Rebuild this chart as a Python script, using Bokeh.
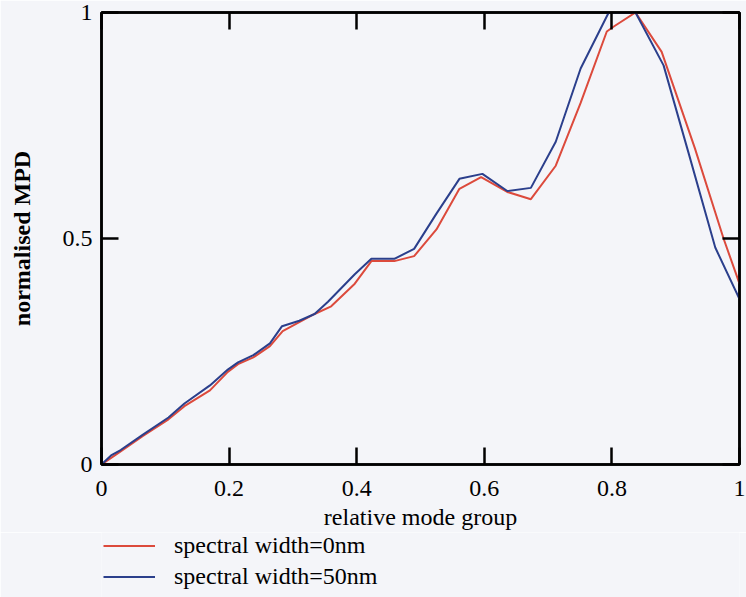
from bokeh.plotting import figure
from bokeh.layouts import column
from bokeh.models import Range1d, LinearAxis, Legend, LegendItem, FixedTicker
from bokeh.embed import file_html
from bokeh.resources import INLINE

# data
x_red = [0, 0.03, 0.065, 0.105, 0.13, 0.17, 0.198, 0.214, 0.238, 0.264, 0.284, 0.31, 0.334,
         0.36, 0.397, 0.423, 0.459, 0.49, 0.525, 0.561, 0.595, 0.636, 0.673, 0.712, 0.751,
         0.792, 0.803, 0.837, 0.878, 0.93, 0.975, 1.0]
y_red = [0, 0.029, 0.063, 0.1, 0.129, 0.164, 0.205, 0.222, 0.237, 0.262, 0.295, 0.315, 0.333,
         0.35, 0.40, 0.45, 0.45, 0.461, 0.52, 0.61, 0.636, 0.603, 0.587, 0.661, 0.80,
         0.958, 0.969, 1.0, 0.913, 0.70, 0.50, 0.40]
x_blue = [0, 0.015, 0.03, 0.065, 0.105, 0.13, 0.17, 0.198, 0.214, 0.238, 0.264, 0.283, 0.31,
          0.334, 0.355, 0.397, 0.423, 0.459, 0.49, 0.525, 0.561, 0.597, 0.636, 0.673, 0.712,
          0.751, 0.795, 0.837, 0.881, 0.92, 0.962, 1.0]
y_blue = [0, 0.02, 0.032, 0.066, 0.104, 0.135, 0.175, 0.21, 0.226, 0.242, 0.268, 0.306, 0.318,
          0.333, 0.36, 0.421, 0.455, 0.455, 0.477, 0.555, 0.632, 0.643, 0.605, 0.612, 0.714,
          0.876, 1.0, 1.0, 0.883, 0.69, 0.48, 0.366]
x_ticks = [0, 0.2, 0.4, 0.6, 0.8, 1]
y_ticks = [0, 0.5, 1]
series_names = ["spectral width=0nm", "spectral width=50nm"]

FONT = "Liberation Serif"
BG = "#f4f5f9"
RED = "#dc4a3c"
BLUE = "#2b3f8c"

p = figure(width=746, height=532, x_range=Range1d(0, 1), y_range=Range1d(0, 1),
           output_backend="svg", toolbar_location=None,
           min_border_left=101, min_border_top=12, min_border_right=7, min_border_bottom=67,
           background_fill_color=BG, border_fill_color=BG)
p.grid.visible = False
p.outline_line_color = "black"
p.outline_line_width = 2.5

p.line(x_red, y_red, line_color=RED, line_width=2)
p.line(x_blue, y_blue, line_color=BLUE, line_width=2)

xa = p.xaxis[0]
xa.ticker = FixedTicker(ticks=x_ticks)
ya = p.yaxis[0]
ya.ticker = FixedTicker(ticks=y_ticks)
for ax in (xa, ya):
    ax.axis_line_width = 2.5
    ax.axis_line_color = "black"
    ax.major_tick_in = 17
    ax.major_tick_out = 0
    ax.major_tick_line_width = 2.5
    ax.major_tick_line_color = "black"
    ax.minor_tick_line_color = None
    ax.major_label_text_font = FONT
    ax.major_label_text_font_size = "24px"
    ax.major_label_text_color = "black"
    ax.axis_label_text_font = FONT
    ax.axis_label_text_font_size = "24px"
    ax.axis_label_text_color = "black"
    ax.axis_label_text_font_style = "normal"

xa.major_label_overrides = {0: "0", 1: "1"}
ya.major_label_overrides = {0: "0", 1: "1"}
xa.axis_label = "relative mode group"
xa.major_label_standoff = 16
xa.axis_label_standoff = 5
ya.axis_label = "normalised MPD"
ya.axis_label_text_font_style = "bold"
ya.major_label_standoff = 9
ya.axis_label_standoff = 25

top = LinearAxis(ticker=FixedTicker(ticks=x_ticks),
                 major_label_overrides={t: "" for t in x_ticks})
right = LinearAxis(ticker=FixedTicker(ticks=y_ticks),
                   major_label_overrides={t: "" for t in y_ticks})
for ax in (top, right):
    ax.axis_line_width = 2.5
    ax.axis_line_color = "black"
    ax.major_tick_in = 17
    ax.major_tick_out = 0
    ax.major_tick_line_width = 2.5
    ax.major_tick_line_color = "black"
    ax.minor_tick_line_color = None
    ax.major_label_text_font_size = "1px"
    ax.major_label_standoff = 0
p.add_layout(top, "above")
p.add_layout(right, "right")

# legend strip below the plot (its sample lines lie outside its view)
pl = figure(width=746, height=65, x_range=Range1d(2, 3), y_range=Range1d(2, 3),
            output_backend="svg", toolbar_location=None,
            x_axis_type=None, y_axis_type=None,
            min_border_left=0, min_border_right=0, min_border_top=0, min_border_bottom=0,
            background_fill_color=BG, border_fill_color=BG)
pl.grid.visible = False
pl.outline_line_color = None
l1 = pl.line(x_red, y_red, line_color=RED, line_width=2)
l2 = pl.line(x_blue, y_blue, line_color=BLUE, line_width=2)

legend = Legend(items=[LegendItem(label=series_names[0], renderers=[l1]),
                       LegendItem(label=series_names[1], renderers=[l2])],
                location=(2, 7), orientation="vertical",
                label_text_font=FONT, label_text_font_size="24px",
                label_text_color="black",
                glyph_width=52, glyph_height=27, label_height=27, label_standoff=19,
                spacing=4, padding=0, margin=0,
                border_line_color=None, background_fill_alpha=0)
pl.add_layout(legend, "center")

layout = column(p, pl, spacing=0)
open("out.html", "w").write(file_html(layout, INLINE))
